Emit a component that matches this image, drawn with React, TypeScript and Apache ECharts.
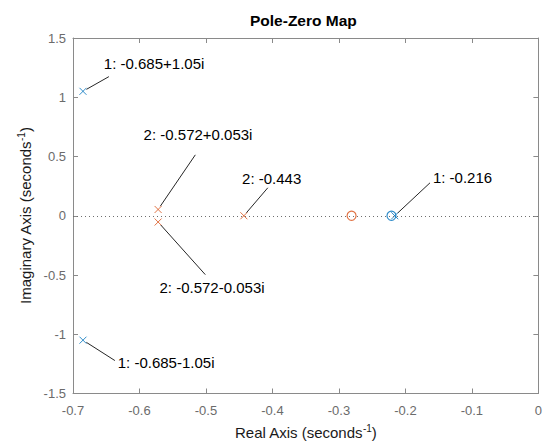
import React, { useEffect, useRef } from "react";
import * as echarts from "echarts";

// System 1 (blue)
const sys1PolesX = [-0.685, -0.685, -0.216];
const sys1PolesY = [1.05, -1.05, 0];
const sys1ZerosX = [-0.221];
const sys1ZerosY = [0];
// System 2 (orange)
const sys2PolesX = [-0.572, -0.572, -0.443];
const sys2PolesY = [0.053, -0.053, 0];
const sys2ZerosX = [-0.281];
const sys2ZerosY = [0];

// Data tips: marker location, leader-line end, label anchor (data units)
const tipTexts = [
  "1: -0.685+1.05i",
  "2: -0.572+0.053i",
  "2: -0.443",
  "1: -0.216",
  "2: -0.572-0.053i",
  "1: -0.685-1.05i",
];
const tipMarkX = [-0.685, -0.572, -0.443, -0.216, -0.572, -0.685];
const tipMarkY = [1.05, 0.053, 0, 0, -0.053, -1.05];
const tipEndX = [-0.646, -0.516, -0.407, -0.163, -0.501, -0.637];
const tipEndY = [1.174, 0.514, 0.236, 0.278, -0.497, -1.222];
const tipLabelX = [-0.6536, -0.5938, -0.4457, -0.1586, -0.5699, -0.6327];
const tipLabelY = [1.289, 0.683, 0.312, 0.32, -0.607, -1.239];

const xTickMin = -0.7;
const xTickMax = 0;
const yTickMin = -1.5;
const yTickMax = 1.5;

const BLUE = "#0072BD";
const ORANGE = "#D95319";
const CROSS = "path://M0,0L10,10M10,0L0,10";
const FONT = "Liberation Sans, Arial, Helvetica, sans-serif";

function pts(xs: number[], ys: number[]) {
  return xs.map((x, i) => [x, ys[i]]);
}

export default function App() {
  const ref = useRef<HTMLDivElement>(null);
  useEffect(() => {
    if (!ref.current) return;
    const chart = echarts.init(ref.current, null, { renderer: "svg" });
    const axisLineColor = "#8a8a8a";
    const labelColor = "#6b6b6b";
    const nameRich = {
      a: { fontSize: 15, color: "#1a1a1a", fontFamily: FONT },
      s: { fontSize: 10, color: "#1a1a1a", fontFamily: FONT, verticalAlign: "top", padding: [0, 0, 8, 0] },
    };
    const tipData = tipTexts.map((_, i) => [
      tipMarkX[i], tipMarkY[i], tipEndX[i], tipEndY[i], tipLabelX[i], tipLabelY[i], i,
    ]);
    const option: any = {
      animation: false,
      backgroundColor: "#ffffff",
      title: {
        text: "Pole-Zero Map",
        left: 250,
        top: 12,
        padding: 0,
        textStyle: { fontSize: 15.5, fontWeight: "bold", color: "#000", fontFamily: FONT },
      },
      grid: { left: 73, right: 4, top: 38, bottom: 51, containLabel: false },
      xAxis: [
        {
          type: "value",
          min: xTickMin,
          max: xTickMax,
          interval: 0.1,
          position: "bottom",
          name: "{a|Real Axis (seconds}{s|-1}{a|)}",
          nameLocation: "middle",
          nameGap: 30,
          nameTextStyle: { rich: nameRich },
          axisLine: { show: true, onZero: false, lineStyle: { color: axisLineColor, width: 1 } },
          axisTick: { show: true, inside: true, length: 5, lineStyle: { color: axisLineColor } },
          axisLabel: { color: labelColor, fontSize: 13, fontFamily: FONT, margin: 10 },
          splitLine: { show: false },
        },
        {
          type: "value",
          min: xTickMin,
          max: xTickMax,
          interval: 0.1,
          position: "top",
          axisLine: { show: true, onZero: false, lineStyle: { color: axisLineColor, width: 1 } },
          axisTick: { show: true, inside: true, length: 5, lineStyle: { color: axisLineColor } },
          axisLabel: { show: false },
          splitLine: { show: false },
        },
      ],
      yAxis: [
        {
          type: "value",
          min: yTickMin,
          max: yTickMax,
          interval: 0.5,
          position: "left",
          name: "{a|Imaginary Axis (seconds}{s|-1}{a|)}",
          nameLocation: "middle",
          nameGap: 34,
          nameRotate: 90,
          nameTextStyle: { rich: nameRich },
          axisLine: { show: true, onZero: false, lineStyle: { color: axisLineColor, width: 1 } },
          axisTick: { show: true, inside: true, length: 5, lineStyle: { color: axisLineColor } },
          axisLabel: { color: labelColor, fontSize: 13, fontFamily: FONT, margin: 7 },
          splitLine: { show: false },
        },
        {
          type: "value",
          min: yTickMin,
          max: yTickMax,
          interval: 0.5,
          position: "right",
          axisLine: { show: true, onZero: false, lineStyle: { color: axisLineColor, width: 1 } },
          axisTick: { show: true, inside: true, length: 5, lineStyle: { color: axisLineColor } },
          axisLabel: { show: false },
          splitLine: { show: false },
        },
      ],
      series: [
        {
          type: "scatter",
          name: "zero-line",
          data: [],
          silent: true,
          markLine: {
            silent: true,
            symbol: ["none", "none"],
            label: { show: false },
            lineStyle: { type: [1, 3], color: "#6e6e6e", width: 1 },
            data: [{ yAxis: 0 }],
          },
        },
        {
          type: "scatter",
          name: "sys1 poles",
          data: pts(sys1PolesX, sys1PolesY),
          symbol: CROSS,
          symbolSize: 7,
          itemStyle: { color: "transparent", borderColor: BLUE, borderWidth: 1 },
          silent: true,
          z: 3,
        },
        {
          type: "scatter",
          name: "sys1 zeros",
          data: pts(sys1ZerosX, sys1ZerosY),
          symbol: "circle",
          symbolSize: 9,
          itemStyle: { color: "transparent", borderColor: BLUE, borderWidth: 1.2 },
          silent: true,
          z: 3,
        },
        {
          type: "scatter",
          name: "sys2 poles",
          data: pts(sys2PolesX, sys2PolesY),
          symbol: CROSS,
          symbolSize: 7,
          itemStyle: { color: "transparent", borderColor: ORANGE, borderWidth: 1 },
          silent: true,
          z: 3,
        },
        {
          type: "scatter",
          name: "sys2 zeros",
          data: pts(sys2ZerosX, sys2ZerosY),
          symbol: "circle",
          symbolSize: 9,
          itemStyle: { color: "transparent", borderColor: ORANGE, borderWidth: 1.2 },
          silent: true,
          z: 3,
        },
        {
          type: "custom",
          name: "tips",
          coordinateSystem: "cartesian2d",
          clip: false,
          silent: true,
          encode: { x: [0, 2, 4], y: [1, 3, 5] },
          data: tipData,
          z: 4,
          renderItem: (params: any, api: any) => {
            const m = api.coord([api.value(0), api.value(1)]);
            const e = api.coord([api.value(2), api.value(3)]);
            const l = api.coord([api.value(4), api.value(5)]);
            const idx = api.value(6);
            const dx = e[0] - m[0];
            const dy = e[1] - m[1];
            const len = Math.sqrt(dx * dx + dy * dy) || 1;
            const sx = m[0] + (dx / len) * 4;
            const sy = m[1] + (dy / len) * 4;
            return {
              type: "group",
              children: [
                {
                  type: "line",
                  shape: { x1: sx, y1: sy, x2: e[0], y2: e[1] },
                  style: { stroke: "#262626", lineWidth: 1 },
                },
                {
                  type: "text",
                  x: l[0],
                  y: l[1],
                  style: {
                    text: tipTexts[idx],
                    fill: "#000000",
                    fontSize: 15,
                    fontFamily: FONT,
                    align: "left",
                    verticalAlign: "middle",
                  },
                },
              ],
            };
          },
        },
      ],
    };
    chart.setOption(option);
    return () => chart.dispose();
  }, []);
  return (
    <div
      ref={ref}
      style={{ position: "fixed", left: 0, top: 0, width: 545, height: 445, background: "#fff" }}
    />
  );
}
